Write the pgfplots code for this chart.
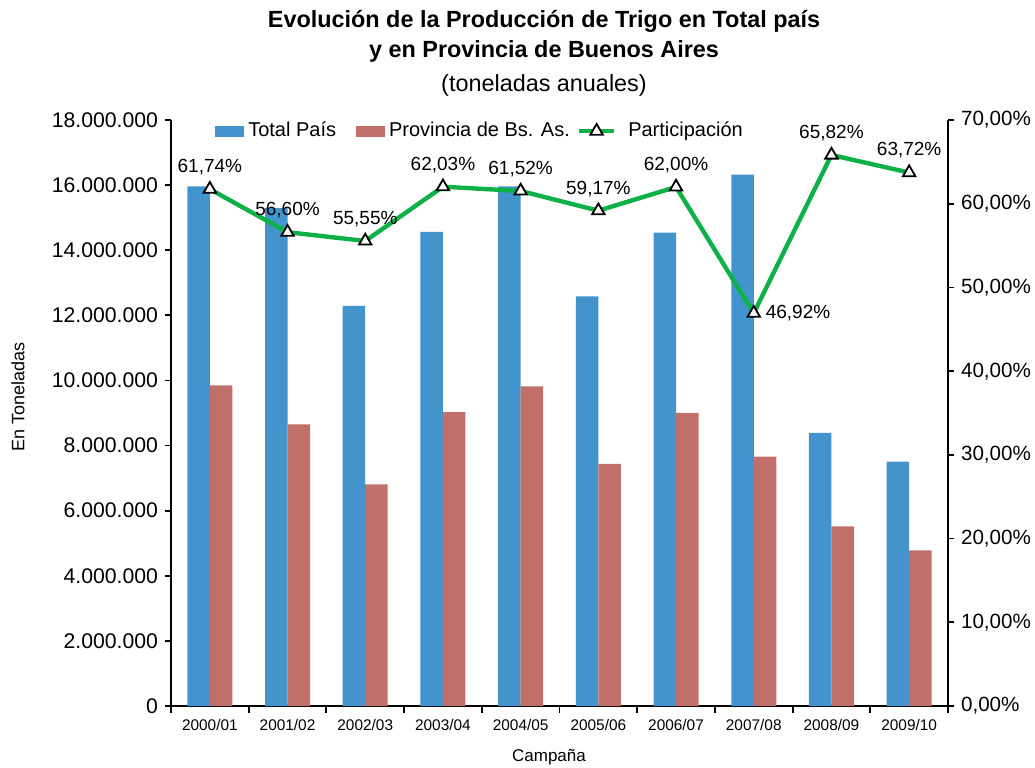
\documentclass[border=0pt]{standalone}
\usepackage{fontspec}
\setmainfont{Liberation Sans}
\usepackage{pgfplots}
\pgfplotsset{compat=1.18}
\definecolor{cblue}{RGB}{67,147,204}
\definecolor{cred}{RGB}{192,112,105}
\definecolor{cgreen}{RGB}{14,176,72}
\pgfplotsset{myline legend/.style={legend image code/.code={\draw[mark repeat=2,mark phase=2,##1] plot coordinates {(0pt,0pt) (8.75pt,0pt) (17.5pt,0pt)};}}}

\begin{document}
\begin{tikzpicture}
\useasboundingbox (-85.5pt,-30.5pt) rectangle (432pt,353pt);
\begin{axis}[
  at={(0,0)}, anchor=south west,
  scale only axis, width=388.5pt, height=293pt,
  xmin=-0.5, xmax=9.5,
  ymin=0, ymax=18000000,
  axis x line*=bottom, axis y line*=left,
  axis line style={-, line width=0.9pt, black},
  xtick={0,1,2,3,4,5,6,7,8,9},
  xticklabels={2000/01,2001/02,2002/03,2003/04,2004/05,2005/06,2006/07,2007/08,2008/09,2009/10},
  minor xtick={-0.5,0.5,1.5,2.5,3.5,4.5,5.5,6.5,7.5,8.5,9.5},
  major x tick style={draw=none},
  tick align=outside,
  major tick length=3pt, minor tick length=3.5pt,
  tick style={black, line width=0.9pt},
  ytick={0,2000000,4000000,6000000,8000000,10000000,12000000,14000000,16000000,18000000},
  yticklabels={0,2.000.000,4.000.000,6.000.000,8.000.000,10.000.000,12.000.000,14.000.000,16.000.000,18.000.000},
  scaled y ticks=false,
  y tick label style={font=\fontsize{10.6}{12}\selectfont},
  x tick label style={font=\fontsize{7.7}{9}\selectfont},
  legend columns=3,
  legend style={at={(0.399,0.981)}, anchor=center, draw=none, fill=none,
    font=\fontsize{10}{12}\selectfont,
    /tikz/column 1/.style={column sep=0pt},
    /tikz/column 2/.style={column sep=8pt},
    /tikz/column 3/.style={column sep=0pt},
    /tikz/column 4/.style={column sep=1.5pt},
    /tikz/column 5/.style={column sep=4pt}},
]
\addplot[ybar, bar width=11.25pt, bar shift=-5.625pt, fill=cblue, draw=none,
  legend image code/.code={\fill[cblue] (0pt,-2.75pt) rectangle (14.5pt,2.75pt);}]
  coordinates {(0,15960000) (1,15290000) (2,12290000) (3,14560000) (4,15960000)
               (5,12580000) (6,14540000) (7,16320000) (8,8390000) (9,7510000)};
\addlegendentry{Total País}
\addplot[ybar, bar width=11.25pt, bar shift=5.625pt, fill=cred, draw=none,
  legend image code/.code={\fill[cred] (0pt,-2.75pt) rectangle (14.5pt,2.75pt);}]
  coordinates {(0,9850000) (1,8650000) (2,6810000) (3,9030000) (4,9820000)
               (5,7440000) (6,9000000) (7,7660000) (8,5520000) (9,4780000)};
\addlegendentry{Provincia de Bs. As.}
\addlegendimage{sharp plot, cgreen, line width=2.2pt, mark=triangle*, mark size=3.6pt,
  mark options={fill=white, draw=black, line width=0.9pt}, myline legend}
\addlegendentry{Participación}
\end{axis}

\begin{axis}[
  at={(0,0)}, anchor=south west,
  scale only axis, width=388.5pt, height=293pt,
  xmin=-0.5, xmax=9.5,
  ymin=0, ymax=70,
  axis y line*=right, axis x line=none,
  axis line style={-, line width=0.9pt, black},
  tick align=outside, major tick length=3pt,
  tick style={black, line width=0.9pt},
  ytick={0,10,20,30,40,50,60,70},
  yticklabels={{0,00\%},{10,00\%},{20,00\%},{30,00\%},{40,00\%},{50,00\%},{60,00\%},{70,00\%}},
  y tick label style={font=\fontsize{10.3}{12}\selectfont},
]
\addplot[cgreen, line width=2.2pt, mark=triangle*, mark size=3.6pt,
  mark options={fill=white, draw=black, line width=0.9pt},
  nodes near coords, point meta=explicit symbolic,
  every node near coord/.append style={anchor=center, yshift=11pt, text=black,
    font=\fontsize{9.5}{11}\selectfont}]
  coordinates {(0,61.74) [61,74\%] (1,56.60) [56,60\%] (2,55.55) [55,55\%]
               (3,62.03) [62,03\%] (4,61.52) [61,52\%] (5,59.17) [59,17\%]
               (6,62.00) [62,00\%] (7,46.92) [] (8,65.82) [65,82\%] (9,63.72) [63,72\%]};
\addplot[draw=none, mark=none, nodes near coords, point meta=explicit symbolic,
  every node near coord/.append style={anchor=west, xshift=2.5pt, text=black,
    font=\fontsize{9.5}{11}\selectfont}]
  coordinates {(7,46.92) [46,92\%]};
\end{axis}

\node[anchor=base, font=\bfseries\fontsize{11.7}{13}\selectfont] at (186.5pt,339pt) {Evolución de la Producción de Trigo en Total país};
\node[anchor=base, font=\bfseries\fontsize{11.7}{13}\selectfont] at (186.5pt,324pt) {y en Provincia de Buenos Aires};
\node[anchor=base, font=\fontsize{11.7}{13}\selectfont] at (186.5pt,307pt) {(toneladas anuales)};
\node[rotate=90, font=\fontsize{9}{11}\selectfont] at (-76.5pt,154.5pt) {En Toneladas};
\node[font=\fontsize{8.5}{10}\selectfont] at (189pt,-25.5pt) {Campaña};
\end{tikzpicture}
\end{document}
